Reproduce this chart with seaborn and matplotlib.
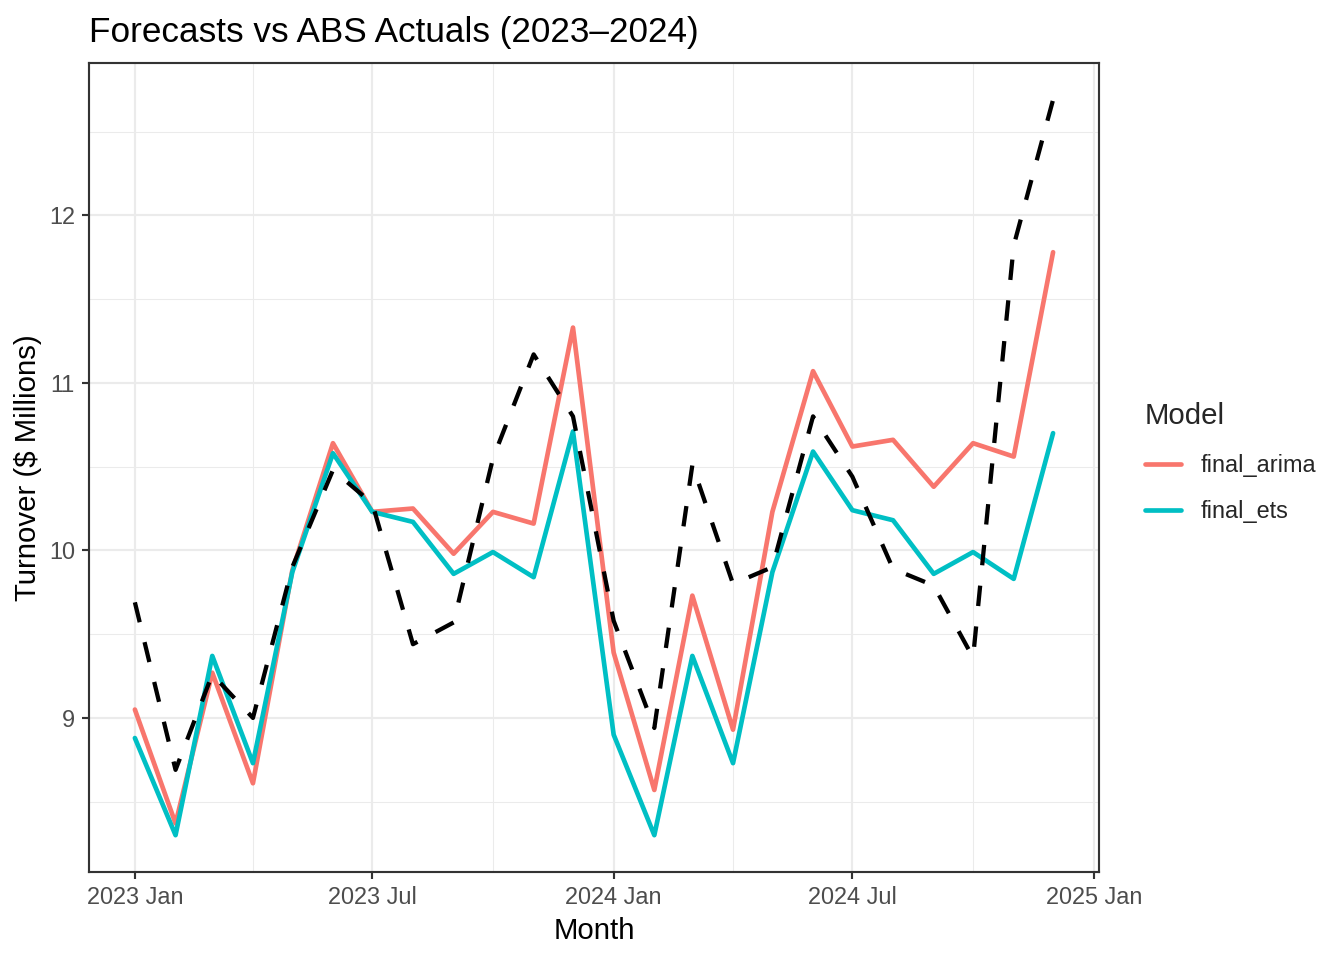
import pandas as pd
import matplotlib
matplotlib.use("Agg")
import matplotlib.pyplot as plt
import matplotlib.dates as mdates
import seaborn as sns

# monthly values, Jan 2023 .. Dec 2024
months = pd.date_range("2023-01-01", "2024-12-01", freq="MS")
final_arima = [9.05, 8.37, 9.27, 8.61, 9.88, 10.64, 10.23, 10.25, 9.98, 10.23, 10.16, 11.33,
               9.39, 8.57, 9.73, 8.93, 10.23, 11.07, 10.62, 10.66, 10.38, 10.64, 10.56, 11.78]
final_ets = [8.88, 8.30, 9.37, 8.73, 9.87, 10.58, 10.23, 10.17, 9.86, 9.99, 9.84, 10.71,
             8.90, 8.30, 9.37, 8.73, 9.87, 10.59, 10.24, 10.18, 9.86, 9.99, 9.83, 10.70]
actual = [9.69, 8.69, 9.26, 9.00, 9.90, 10.48, 10.28, 9.44, 9.57, 10.55, 11.17, 10.80,
          9.58, 8.94, 10.51, 9.80, 9.90, 10.80, 10.44, 9.89, 9.79, 9.36, 11.82, 12.69]

fc = pd.concat([
    pd.DataFrame({"Month": months, "Turnover": final_arima, "Model": "final_arima"}),
    pd.DataFrame({"Month": months, "Turnover": final_ets, "Model": "final_ets"}),
])
act = pd.DataFrame({"Month": months, "Turnover": actual})

sns.set_theme(style="white")
plt.rcParams["font.family"] = ["Liberation Sans", "DejaVu Sans"]

fig = plt.figure(figsize=(7, 5), dpi=192)
ax = fig.add_axes([0.0662, 0.0917, 0.7515, 0.8427])

sns.lineplot(data=fc, x="Month", y="Turnover", hue="Model",
             palette=["#F8766D", "#00BFC4"], linewidth=1.75, ax=ax)
sns.lineplot(data=act, x="Month", y="Turnover", color="black",
             linewidth=1.6, linestyle=(0, (4.8, 4.8)), ax=ax)

# grid / panel like theme_bw
ax.xaxis.set_major_locator(mdates.MonthLocator(bymonth=[1, 7]))
ax.xaxis.set_minor_locator(mdates.MonthLocator(bymonth=[4, 10]))
ax.xaxis.set_major_formatter(mdates.DateFormatter("%Y %b"))
ax.set_yticks([9, 10, 11, 12])
ax.set_yticks([8.5, 9.5, 10.5, 11.5, 12.5], minor=True)
ax.grid(which="major", color="#EBEBEB", linewidth=0.8)
ax.grid(which="minor", color="#EBEBEB", linewidth=0.4)
ax.set_axisbelow(True)
for s in ax.spines.values():
    s.set_color("#333333")
    s.set_linewidth(0.8)
ax.tick_params(which="major", length=2.75, width=0.8, color="#333333",
               labelsize=8.8, labelcolor="#4D4D4D", pad=2.5, bottom=True, left=True)
ax.tick_params(which="minor", length=0, bottom=False, left=False)

ax.set_xlabel("Month", fontsize=11, color="black", labelpad=3)
ax.set_ylabel("Turnover ($ Millions)", fontsize=11, color="black", labelpad=2.5)
ax.set_title("Forecasts vs ABS Actuals (2023\u20132024)", fontsize=13.2,
             loc="left", pad=8, color="black")

ax.get_legend().remove()
handles = ax.get_lines()[:2]
leg = fig.legend(handles, ["final_arima", "final_ets"], title="Model",
                 loc="center left", bbox_to_anchor=(0.836, 0.518), frameon=False,
                 fontsize=8.8, title_fontsize=11, handlelength=1.55,
                 handletextpad=0.85, labelspacing=1.0, alignment="left")

fig.savefig("out.png", dpi=192)
